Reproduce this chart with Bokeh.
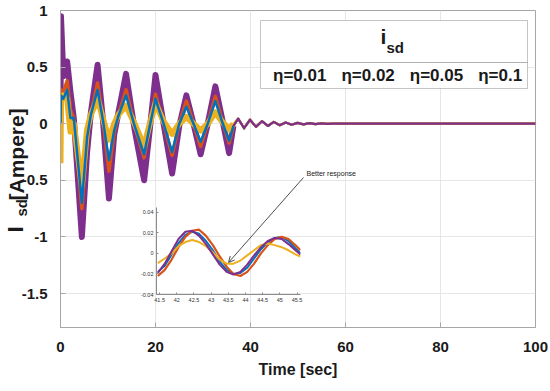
import numpy as np
from bokeh.plotting import figure
from bokeh.models import (Range1d, FixedTicker, Label, Arrow, OpenHead,
                          BoxAnnotation, Legend, LegendItem)
from bokeh.embed import file_html
from bokeh.resources import INLINE

# ---------------- data ----------------
series_labels = ["η=0.01", "η=0.02", "η=0.05", "η=0.1"]
series_colors = ["#0072BD", "#D95319", "#EDB120", "#7E2F8E"]

# main transient part (time in s, current in A)
t_main = [0.0, 0.1, 0.6, 1.4, 2.1, 2.8, 4.5, 5.6, 6.4, 7.8, 8.9, 10.2, 11.3, 12.2, 13.8,
          15.6, 17.6, 18.8, 20.0, 21.7, 23.5, 25.0, 26.5, 28.0, 29.5, 31.0, 32.6, 34.0, 35.5, 36.4]
isd_eta001 = [0.0, 0.25, 0.22, 0.3, 0.05, 0.05, -0.7, -0.12, 0.08, 0.3, 0.04, -0.32, -0.06, 0.07, 0.25,
              -0.02, -0.27, -0.02, 0.22, 0.0, -0.25, 0.0, 0.15, 0.0, -0.16, 0.0, 0.2, 0.02, -0.15, -0.02]
isd_eta002 = [0.0, 0.3, 0.28, 0.38, 0.12, 0.05, -0.75, -0.15, 0.08, 0.36, 0.05, -0.42, -0.08, 0.08, 0.3,
              -0.02, -0.3, -0.02, 0.26, 0.0, -0.28, 0.0, 0.2, 0.0, -0.2, 0.0, 0.24, 0.03, -0.17, -0.02]
isd_eta005 = [-0.35, 0.2, 0.25, 0.22, -0.07, 0.0, -0.55, -0.05, 0.08, 0.22, 0.05, -0.14, 0.0, 0.08, 0.16,
              0.0, -0.2, 0.0, 0.18, 0.02, -0.09, 0.0, 0.06, 0.0, -0.06, 0.0, 0.1, 0.02, -0.05, 0.0]
isd_eta01 = [0.0, 0.95, 0.42, 0.55, 0.28, 0.05, -1.0, -0.25, 0.1, 0.52, 0.05, -0.66, -0.1, 0.1, 0.44,
             -0.05, -0.5, -0.05, 0.43, 0.0, -0.44, -0.02, 0.25, 0.0, -0.27, 0.0, 0.33, 0.05, -0.26, -0.02]

# settling tail (common to all curves at this scale)
t_tail = [37.4, 38.65, 39.9, 41.15, 42.4, 43.65, 44.9, 46.15, 47.4, 48.65, 49.9, 51.15,
          52.4, 53.65, 54.9, 56.15, 57.4, 60.0, 100.0]
isd_tail = [0.045, -0.04, 0.035, -0.028, 0.022, -0.02, 0.016, -0.013, 0.011, -0.009, 0.007,
            -0.006, 0.005, -0.004, 0.003, -0.002, 0.001, 0.0, 0.0]

# zoomed window 41.5 .. 45.5 s
t_zoom = [41.45, 41.65, 41.85, 42.05, 42.25, 42.45, 42.65, 42.85, 43.05, 43.25, 43.45,
          43.65, 43.85, 44.05, 44.25, 44.45, 44.65, 44.85, 45.05, 45.25, 45.45, 45.6]
zoom_eta001 = [-0.018, -0.012, -0.001, 0.010, 0.018, 0.021, 0.019, 0.012, 0.003, -0.008, -0.016,
               -0.020, -0.019, -0.014, -0.005, 0.004, 0.011, 0.015, 0.016, 0.012, 0.005, 0.000]
zoom_eta002 = [-0.022, -0.016, -0.006, 0.006, 0.016, 0.022, 0.023, 0.017, 0.008, -0.003, -0.013,
               -0.020, -0.022, -0.018, -0.010, 0.000, 0.008, 0.014, 0.016, 0.014, 0.008, 0.003]
zoom_eta005 = [-0.0095, -0.005, 0.000, 0.007, 0.011, 0.013, 0.011, 0.007, 0.001, -0.006, -0.010,
               -0.010, -0.007, -0.002, 0.003, 0.008, 0.0095, 0.008, 0.006, 0.003, -0.001, -0.003]
zoom_eta01 = [-0.019, -0.010, 0.002, 0.014, 0.021, 0.022, 0.017, 0.009, -0.001, -0.011, -0.018,
              -0.0205, -0.018, -0.011, -0.002, 0.006, 0.012, 0.015, 0.014, 0.009, 0.003, -0.001]

x_ticks = [0, 20, 40, 60, 80, 100]
x_tick_labels = ["0", "20", "40", "60", "80", "100"]
y_ticks = [-1.5, -1, -0.5, 0, 0.5, 1]
y_tick_labels = ["-1.5", "-1", "-0.5", "0", "0.5", "1"]
zx_ticks = [41.5, 42, 42.5, 43, 43.5, 44, 44.5, 45, 45.5]
zx_tick_labels = ["41.5", "42", "42.5", "43", "43.5", "44", "44.5", "45", "45.5"]
zy_ticks = [-0.04, -0.02, 0, 0.02, 0.04]
zy_tick_labels = ["-0.04", "-0.02", "0", "0.02", "0.04"]

# ---------------- style ----------------
FONT = "Liberation Sans"
GRID = "#e6e6e6"
AX = "#a6a6a6"
TXT = "#1a1a1a"

p = figure(width=550, height=391, x_range=Range1d(0, 100), y_range=Range1d(-1.8, 1.0),
           output_backend="svg", toolbar_location=None,
           min_border_left=60, min_border_right=15, min_border_top=10, min_border_bottom=64,
           background_fill_color="white", border_fill_color="white",
           outline_line_color=AX, outline_line_width=1,
           styles={"position": "absolute", "left": "0px", "top": "0px"})

main_series = [isd_eta001, isd_eta002, isd_eta005, isd_eta01]
widths = [2.5, 3.5, 6, 6]
# draw order: purple, red, yellow, blue
for idx in [3, 1, 2, 0]:
    p.line(t_main, main_series[idx], line_color=series_colors[idx], line_width=widths[idx],
           line_join="round")
for idx in [0, 1, 2, 3]:
    p.line([t_main[-1]] + t_tail, [main_series[idx][-1]] + isd_tail,
           line_color=series_colors[idx], line_width=2.2, line_join="round")

for ax in (p.xaxis[0], p.yaxis[0]):
    ax.axis_line_color = AX
    ax.major_tick_line_color = AX
    ax.major_tick_in = 5
    ax.major_tick_out = 0
    ax.minor_tick_line_color = None
    ax.major_label_text_font = FONT
    ax.major_label_text_font_style = "bold"
    ax.major_label_text_font_size = "15px"
    ax.major_label_text_color = TXT

p.xaxis.ticker = FixedTicker(ticks=x_ticks)
p.xaxis.major_label_overrides = {t: s for t, s in zip(x_ticks, x_tick_labels)}
p.yaxis.ticker = FixedTicker(ticks=y_ticks)
p.yaxis.major_label_overrides = {t: s for t, s in zip(y_ticks, y_tick_labels)}
p.xaxis.major_label_standoff = 14
p.yaxis.major_label_standoff = 13
p.xaxis.axis_label = "Time [sec]"
p.xaxis.axis_label_text_font = FONT
p.xaxis.axis_label_text_font_style = "bold"
p.xaxis.axis_label_text_font_size = "16px"
p.xaxis.axis_label_text_color = TXT
p.xaxis.axis_label_standoff = 6
p.grid.grid_line_color = GRID
p.xgrid.ticker = FixedTicker(ticks=x_ticks)
p.ygrid.ticker = FixedTicker(ticks=y_ticks)

# legend boxes (title row + entries row)
p.add_layout(BoxAnnotation(left=200, right=467, bottom=265, top=307,
                           left_units="screen", right_units="screen", bottom_units="screen", top_units="screen",
                           fill_color="white", fill_alpha=1, line_color="#404040", line_width=1))
p.add_layout(BoxAnnotation(left=200, right=467, bottom=239, top=265,
                           left_units="screen", right_units="screen", bottom_units="screen", top_units="screen",
                           fill_color="white", fill_alpha=1, line_color="#404040", line_width=1))
p.add_layout(Label(x=320, y=280, x_units="screen", y_units="screen", text="i",
                   text_font=FONT, text_font_style="bold", text_font_size="21px", text_color=TXT))
p.add_layout(Label(x=326, y=272, x_units="screen", y_units="screen", text="sd",
                   text_font=FONT, text_font_style="bold", text_font_size="15px", text_color=TXT))

dummies = [p.line([], [], line_color=c, line_width=2) for c in series_colors]
legend = Legend(items=[LegendItem(label=l, renderers=[r]) for l, r in zip(series_labels, dummies)],
                orientation="horizontal", location=(201, 241), glyph_width=11, glyph_height=20,
                label_standoff=1, spacing=3, padding=0, margin=0, label_height=20,
                border_line_alpha=0, background_fill_alpha=0,
                label_text_font=FONT, label_text_font_style="bold", label_text_font_size="17px",
                label_text_color=TXT)
p.add_layout(legend)

# annotation
p.add_layout(Arrow(x_start=243, y_start=150, x_end=168, y_end=65, start_units="screen", end_units="screen",
                   line_color="#222222", line_width=0.8,
                   end=OpenHead(size=6, line_color="#222222", line_width=0.8)))
p.add_layout(Label(x=246, y=154, x_units="screen", y_units="screen", text="Better response",
                   text_font=FONT, text_font_size="7px", text_color=TXT,
                   text_baseline="middle"))

# ---------------- y axis title  I_sd[Ampere]  (rotated, with subscript) ----------------
ylab = figure(width=50, height=170, x_range=Range1d(0, 1), y_range=Range1d(0, 1),
              output_backend="svg", toolbar_location=None, x_axis_type=None, y_axis_type=None,
              min_border_left=0, min_border_right=0, min_border_top=0, min_border_bottom=0,
              background_fill_alpha=0, border_fill_alpha=0, outline_line_color=None,
              styles={"position": "absolute", "left": "0px", "top": "80px"})
ylab.grid.visible = False
for txt, xs, ys, fs in [("I", 15, 18, "22px"), ("sd", 21, 34, "15px"), ("[Ampere]", 16, 50, "21px")]:
    ylab.add_layout(Label(x=xs, y=ys, x_units="screen", y_units="screen", text=txt, angle=np.pi / 2,
                          text_font=FONT, text_font_style="bold", text_font_size=fs,
                          text_color=TXT, text_align="left", text_baseline="alphabetic"))

# ---------------- inset ----------------
ins = figure(width=172, height=105, x_range=Range1d(41.41, 45.60), y_range=Range1d(-0.04, 0.0446),
             output_backend="svg", toolbar_location=None,
             min_border_left=22, min_border_right=6, min_border_top=4, min_border_bottom=14,
             background_fill_alpha=0, border_fill_alpha=0, outline_line_color=None,
             styles={"position": "absolute", "left": "134px", "top": "203px"})
zoom_series = [zoom_eta001, zoom_eta002, zoom_eta005, zoom_eta01]
zw = [2, 2.2, 2, 2]
for idx in [0, 1, 2, 3]:
    ins.line(t_zoom, zoom_series[idx], line_color=series_colors[idx], line_width=zw[idx], line_join="round")
ins.grid.visible = False
for ax in (ins.xaxis[0], ins.yaxis[0]):
    ax.axis_line_color = "#8c8c8c"
    ax.major_tick_line_color = "#8c8c8c"
    ax.major_tick_in = 2
    ax.major_tick_out = 0
    ax.minor_tick_line_color = None
    ax.major_label_text_font = FONT
    ax.major_label_text_font_size = "5.5px"
    ax.major_label_text_color = "#333333"
    ax.major_label_standoff = 3
ins.xaxis.ticker = FixedTicker(ticks=zx_ticks)
ins.xaxis.major_label_overrides = {t: s for t, s in zip(zx_ticks, zx_tick_labels)}
ins.yaxis.ticker = FixedTicker(ticks=zy_ticks)
ins.yaxis.major_label_overrides = {t: s for t, s in zip(zy_ticks, zy_tick_labels)}

open("out.html", "w").write(file_html([p, ylab, ins], INLINE, title="isd"))
